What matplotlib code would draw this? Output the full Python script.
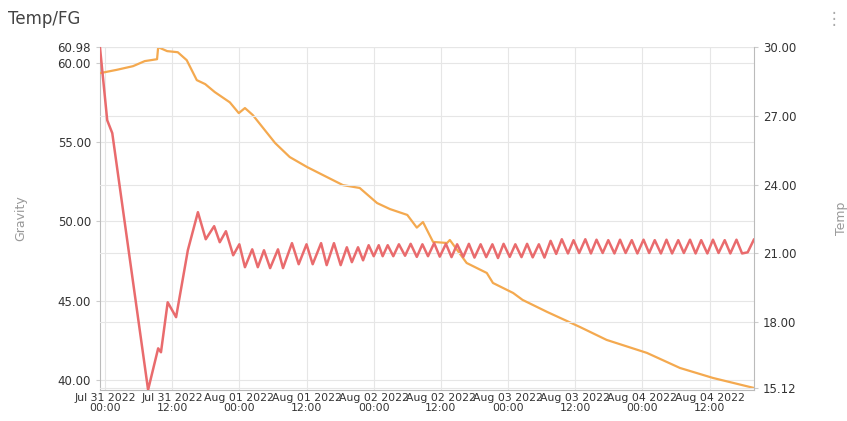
import matplotlib
matplotlib.use("Agg")
import matplotlib.pyplot as plt
import numpy as np
import datetime as dt
import matplotlib.dates as mdates

start = dt.datetime(2022, 7, 31, 0, 0)

# Temp (red, right axis): hours since start, value
temp_h = [-0.9, 0.4, 1.3, 7.7, 9.5, 10.0, 11.2, 12.7, 14.8, 16.6, 18.0, 19.5, 20.5, 21.6, 22.9,
          24.0, 25.0, 26.3, 27.3, 28.4, 29.5, 30.9, 31.8, 33.4, 34.6, 36.0, 37.1, 38.6, 39.6,
          40.9, 42.1, 43.2, 44.1, 45.2, 46.1, 47.1, 48.0, 48.9, 49.6, 50.5,
          51.5, 52.5, 53.6, 54.6, 55.7, 56.7, 57.7, 58.8, 59.8, 60.9, 61.9, 62.9, 64.0, 65.0,
          66.0, 67.1, 68.1, 69.2, 70.2, 71.2, 72.3, 73.3, 74.4, 75.4, 76.4, 77.5, 78.5, 79.6,
          80.6, 81.6, 82.7, 83.7, 84.7, 85.8, 86.8, 87.8, 88.9, 89.9, 91.0, 92.0, 93.0, 94.1,
          95.1, 96.2, 97.2, 98.2, 99.3, 100.3, 101.3, 102.4, 103.4, 104.5, 105.5, 106.5, 107.6,
          108.6, 109.6, 110.7, 111.7, 112.8, 113.8, 114.8, 115.9]
temp_v = [30.0, 26.81, 26.25, 15.05, 16.86, 16.69, 18.87, 18.22, 21.14, 22.80, 21.62, 22.19, 21.49, 21.97, 20.92,
          21.40, 20.40, 21.18, 20.40, 21.14, 20.36, 21.18, 20.36, 21.45, 20.53, 21.40, 20.53, 21.45, 20.49,
          21.45, 20.49, 21.27, 20.62, 21.27, 20.70, 21.36, 20.88, 21.36, 20.88, 21.36,
          20.88, 21.40, 20.90, 21.42, 20.85, 21.40, 20.88, 21.45, 20.86, 21.42, 20.84, 21.40, 20.85, 21.42,
          20.82, 21.40, 20.84, 21.40, 20.80, 21.42, 20.85, 21.40, 20.84, 21.42, 20.83, 21.40, 20.82, 21.55,
          20.98, 21.62, 21.00, 21.58, 21.02, 21.62, 21.00, 21.60, 21.02, 21.58, 21.00, 21.60, 21.02, 21.58,
          21.00, 21.60, 21.02, 21.58, 21.00, 21.60, 21.00, 21.58, 21.02, 21.60, 21.00, 21.58, 21.00,
          21.60, 21.02, 21.58, 21.00, 21.60, 21.00, 21.05, 21.60]

# Gravity (orange, left axis)
grav_h = [-0.9, 2.1, 5.0, 7.1, 9.3, 9.5, 11.1, 13.0, 14.6, 16.4, 17.9, 19.6, 22.3, 23.9, 25.0,
          26.4, 30.4, 33.0, 36.1, 38.9, 42.5, 45.5, 48.6, 50.9, 54.0, 55.7, 56.8, 58.6, 61.1,
          61.6, 64.6, 68.2, 69.3, 72.9, 74.6, 79.0, 84.8, 89.6, 96.8, 102.7, 108.6, 115.9]
grav_v = [59.34, 59.55, 59.78, 60.10, 60.22, 60.98, 60.73, 60.66, 60.16, 58.90, 58.65, 58.15, 57.50, 56.82, 57.14,
          56.70, 54.93, 54.05, 53.42, 52.92, 52.28, 52.10, 51.15, 50.77, 50.40, 49.60, 49.95, 48.70, 48.63,
          48.82, 47.37, 46.74, 46.11, 45.48, 45.04, 44.28, 43.34, 42.52, 41.70, 40.75, 40.12, 39.49]

left_ticks = [40, 45, 50, 55, 60, 60.98]
right_ticks = [15.12, 18, 21, 24, 27, 30]
xtick_labels_h = [0, 12, 24, 36, 48, 60, 72, 84, 96, 108]

def to_dt(hs):
    return [start + dt.timedelta(hours=h) for h in hs]

fig = plt.figure(figsize=(8.47, 4.21), dpi=100)
ax = fig.add_axes([0.118, 0.074, 0.772, 0.814])
ax2 = ax.twinx()

ax.plot(to_dt(grav_h), grav_v, color="#f4a94f", lw=1.6, zorder=3)
ax2.plot(to_dt(temp_h), temp_v, color="#e96b6d", lw=1.8, zorder=3)

ax.set_ylim(39.37, 60.98)
ax2.set_ylim(15.05, 30.0)
ax.set_xlim(start + dt.timedelta(hours=-0.9), start + dt.timedelta(hours=115.9))

ax.set_yticks(left_ticks)
ax.set_yticklabels([f"{v:.2f}" for v in left_ticks])
ax2.set_yticks(right_ticks)
ax2.set_yticklabels([f"{v:.2f}" for v in right_ticks])
xt = to_dt(xtick_labels_h)
ax.set_xticks(xt)
ax.set_xticklabels([d.strftime("%b %d %Y\n%H:%M") for d in xt], linespacing=1.0)

gc = "#e6e6e6"
ax.grid(True, color=gc, lw=0.8)
ax2.grid(True, axis="y", color=gc, lw=0.8)
ax.set_axisbelow(True)
ax2.set_axisbelow(True)

for a in (ax, ax2):
    for s in a.spines.values():
        s.set_visible(False)
    a.tick_params(labelsize=8.5, colors="#333333", length=3, color="#cccccc")
ax.tick_params(axis="x", labelsize=7.8, pad=2, length=0)
ax.spines["left"].set_visible(True)
ax.spines["left"].set_color("#bbbbbb")
ax.spines["bottom"].set_visible(True)
ax.spines["bottom"].set_color("#bbbbbb")
ax2.spines["right"].set_visible(True)
ax2.spines["right"].set_color("#bbbbbb")

ax.set_ylabel("Gravity", color="#999999", fontsize=9, labelpad=22)
ax2.set_ylabel("Temp", color="#999999", fontsize=9, labelpad=28, rotation=90)

fig.text(0.009, 0.955, "Temp/FG", fontsize=12, color="#444444", va="center")
fig.text(0.985, 0.955, "\u22ee", fontsize=12, color="#aaaaaa", va="center", ha="center")

fig.savefig("out.png", dpi=100)
